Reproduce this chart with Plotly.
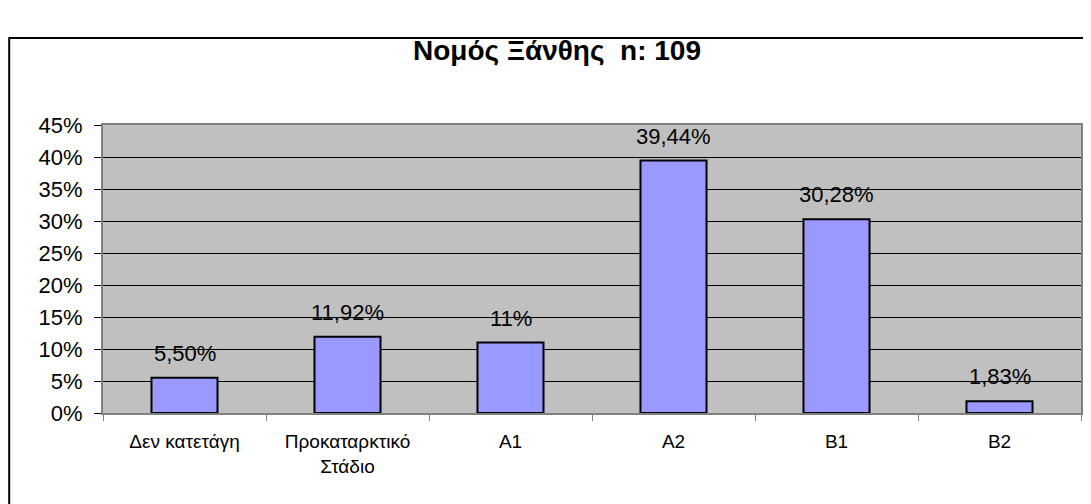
import plotly.graph_objects as go

categories = ["Δεν κατετάγη", "Προκαταρκτικό<br>Στάδιο", "A1", "A2", "B1", "B2"]
values = [5.50, 11.92, 11.0, 39.44, 30.28, 1.83]
labels = ["5,50%", "11,92%", "11%", "39,44%", "30,28%", "1,83%"]
y_ticks = [0, 5, 10, 15, 20, 25, 30, 35, 40, 45]
y_tick_text = [f"{v}%" for v in y_ticks]

# page has an 8px body margin; figure sized to fill the rest of the window
W, H = 1083, 496
L, R, T, B = 95, 8, 117, 91
pw, ph = W - L - R, H - T - B

fig = go.Figure(go.Bar(
    x=categories, y=values,
    marker=dict(color="#9999FF", line=dict(color="black", width=2)),
))

annotations = [
    dict(x=c, y=v, text=t, xref="x", yref="y", showarrow=False,
         yanchor="bottom", yshift=10,
         font=dict(family="Liberation Sans, Arial", size=22, color="black"))
    for c, v, t in zip(categories, values, labels)
]

fig.update_layout(
    width=W, height=H,
    margin=dict(l=L, r=R, t=T, b=B),
    paper_bgcolor="white", plot_bgcolor="#C0C0C0",
    bargap=0.595,
    showlegend=False,
    font=dict(family="Liberation Sans, Arial", color="black"),
    title=dict(text="<b>Νομός Ξάνθης  n: 109</b>", x=549 / W, xref="container", xanchor="center",
               y=1 - 42 / H, yref="container", yanchor="middle",
               font=dict(size=28, color="black")),
    xaxis=dict(tickson="boundaries", ticks="outside", ticklen=6, tickcolor="#808080",
               showgrid=False, showline=True, linecolor="#808080", linewidth=2, mirror=True,
               tickfont=dict(size=19), ticklabelstandoff=10),
    yaxis=dict(range=[0, 45], tickvals=y_ticks, ticktext=y_tick_text, ticks="outside", ticklen=7,
               tickcolor="black", showgrid=True, gridcolor="black", gridwidth=1,
               showline=True, linecolor="#808080", linewidth=2, mirror=True,
               tickfont=dict(size=22), zeroline=False, ticklabelstandoff=7),
    annotations=annotations,
    shapes=[dict(type="rect", xref="paper", yref="paper",
                 x0=(1 - L) / pw, x1=(W + 20 - L) / pw,
                 y0=(H - T - (H + 20)) / ph, y1=(H - T - 4) / ph,
                 line=dict(color="black", width=2), layer="below")],
)

fig.write_html("out.html")
